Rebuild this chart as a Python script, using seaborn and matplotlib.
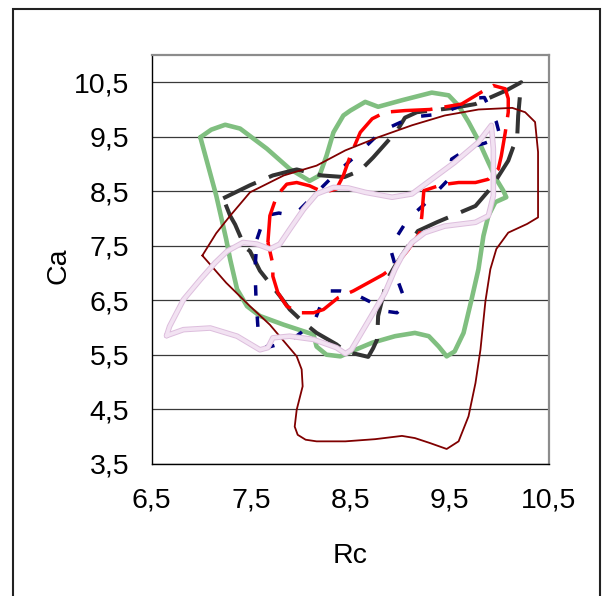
import matplotlib
matplotlib.use("Agg")
import matplotlib.pyplot as plt
import matplotlib.patheffects as pe
from matplotlib.patches import Rectangle
from matplotlib.ticker import FixedLocator, FuncFormatter
import seaborn as sns

# ---- closed contours in the Rc / Ca plane ----
rc_maroon = [7.01, 7.15, 7.29, 7.49, 7.83, 8.16, 8.45, 8.78, 9.12, 9.45, 9.79, 10.13, 10.26, 10.36,
             10.39, 10.39, 10.39, 10.28, 10.09, 9.97, 9.91, 9.86, 9.81, 9.76, 9.69, 9.59, 9.47, 9.30,
             9.15, 9.02, 8.75, 8.45, 8.16, 8.05, 7.97, 7.94, 7.96, 8.02, 8.01, 7.96, 7.69, 7.49, 7.25, 7.01]
ca_maroon = [7.32, 7.73, 8.05, 8.48, 8.79, 8.97, 9.25, 9.49, 9.71, 9.89, 10.00, 10.03, 9.95, 9.77,
             9.22, 8.60, 8.02, 7.90, 7.74, 7.44, 7.07, 6.48, 5.59, 4.98, 4.37, 3.91, 3.77, 3.88,
             3.97, 4.01, 3.95, 3.91, 3.91, 3.94, 4.03, 4.18, 4.49, 4.92, 5.23, 5.47, 6.05, 6.39, 6.82, 7.32]

rc_green = [6.99, 7.10, 7.24, 7.39, 7.66, 7.89, 8.09, 8.19, 8.26, 8.33, 8.43, 8.50, 8.65, 8.78, 9.02,
            9.32, 9.49, 9.59, 9.69, 9.79, 9.89, 9.97, 10.04, 10.07, 9.96, 9.89, 9.84, 9.79, 9.72, 9.64,
            9.55, 9.47, 9.39, 9.29, 9.15, 8.95, 8.72, 8.55, 8.40, 8.26, 8.16, 8.13, 7.83, 7.59, 7.46,
            7.36, 7.29, 7.25, 7.15, 6.99]
ca_green = [9.49, 9.63, 9.72, 9.65, 9.28, 8.91, 8.69, 8.79, 9.15, 9.58, 9.89, 9.98, 10.14, 10.05, 10.17,
            10.31, 10.26, 10.07, 9.77, 9.43, 9.03, 8.72, 8.51, 8.39, 8.30, 8.05, 7.68, 7.07, 6.51, 5.90,
            5.56, 5.47, 5.65, 5.84, 5.90, 5.84, 5.72, 5.59, 5.47, 5.50, 5.65, 5.87, 6.05, 6.21, 6.39,
            6.70, 7.25, 7.62, 8.42, 9.49]

rc_grey = [7.22, 7.49, 7.72, 7.96, 8.21, 8.44, 8.60, 8.73, 8.97, 9.05, 9.17, 9.54, 9.76, 10.07, 10.22,
           10.19, 10.18, 10.14, 10.09, 9.92, 9.76, 9.37, 9.18, 8.95, 8.87, 8.78, 8.77, 8.73, 8.68, 8.45,
           8.36, 8.16, 8.03, 7.89, 7.79, 7.59, 7.49, 7.44, 7.34, 7.29, 7.22]
ca_grey = [8.37, 8.61, 8.79, 8.90, 8.79, 8.76, 8.88, 9.12, 9.61, 9.85, 9.95, 10.03, 10.10, 10.35, 10.50,
           9.89, 9.49, 9.31, 9.06, 8.57, 8.23, 7.93, 7.77, 7.13, 6.88, 6.21, 5.78, 5.62, 5.46, 5.56,
           5.69, 5.90, 6.09, 6.33, 6.58, 7.04, 7.40, 7.47, 7.89, 8.05, 8.37]

rc_navy = [7.56, 7.64, 7.78, 7.93, 8.13, 8.35, 8.58, 8.82, 9.12, 9.42, 9.58, 9.69, 9.85, 9.97, 10.01,
           9.85, 9.71, 9.52, 9.49, 9.27, 9.08, 8.90, 8.95, 8.98, 9.03, 9.04, 8.97, 8.85, 8.70, 8.55,
           8.40, 8.28, 8.20, 8.14, 8.00, 7.89, 7.66, 7.60, 7.57, 7.55, 7.54, 7.56]
ca_navy = [7.62, 8.05, 8.10, 8.05, 8.42, 8.82, 9.19, 9.61, 9.86, 9.92, 10.05, 10.20, 10.22, 9.77, 9.49,
           9.38, 9.31, 9.09, 8.72, 8.30, 7.99, 7.47, 7.15, 6.85, 6.60, 6.40, 6.27, 6.30, 6.47, 6.61,
           6.67, 6.67, 6.40, 6.12, 5.90, 5.75, 5.63, 5.75, 5.99, 6.55, 7.07, 7.62]

rc_red = [7.67, 7.69, 7.76, 7.86, 7.96, 8.09, 8.23, 8.36, 8.43, 8.50, 8.60, 8.72, 8.85, 9.05, 9.30,
          9.62, 9.82, 9.94, 10.06, 10.09, 10.09, 10.06, 10.02, 9.99, 9.89, 9.76, 9.59, 9.42, 9.24,
          9.22, 9.20, 9.08, 8.95, 8.83, 8.53, 8.38, 8.23, 8.13, 7.99, 7.86, 7.77, 7.72, 7.72, 7.67]
ca_red = [7.56, 8.05, 8.42, 8.63, 8.66, 8.60, 8.48, 8.54, 8.79, 9.15, 9.58, 9.83, 9.95, 9.98, 10.00,
          10.10, 10.32, 10.44, 10.38, 10.20, 9.95, 9.58, 9.15, 8.91, 8.72, 8.66, 8.66, 8.62, 8.51,
          8.05, 7.74, 7.42, 7.13, 6.97, 6.67, 6.55, 6.33, 6.27, 6.27, 6.39, 6.64, 6.94, 7.16, 7.56]

rc_pink = [6.65, 6.68, 6.82, 6.99, 7.14, 7.26, 7.42, 7.56, 7.69, 7.79, 7.89, 8.03, 8.16, 8.33, 8.48,
           8.65, 8.92, 9.12, 9.32, 9.55, 9.79, 9.92, 9.94, 9.94, 9.89, 9.76, 9.45, 9.25, 9.12, 9.02,
           8.95, 8.85, 8.65, 8.51, 8.45, 8.36, 8.13, 7.89, 7.72, 7.67, 7.59, 7.36, 7.09, 6.82, 6.65]
ca_pink = [5.85, 6.02, 6.51, 6.88, 7.19, 7.40, 7.56, 7.53, 7.44, 7.53, 7.80, 8.17, 8.45, 8.57, 8.56,
           8.48, 8.39, 8.45, 8.72, 9.03, 9.40, 9.71, 9.28, 8.42, 8.05, 7.93, 7.86, 7.74, 7.56, 7.31,
           7.07, 6.64, 6.02, 5.59, 5.52, 5.63, 5.78, 5.84, 5.81, 5.63, 5.59, 5.84, 5.99, 5.96, 5.85]

x_ticks = [6.5, 7.5, 8.5, 9.5, 10.5]
y_ticks = [3.5, 4.5, 5.5, 6.5, 7.5, 8.5, 9.5, 10.5]

sns.set_theme(style="white")
plt.rcParams["font.family"] = ["Liberation Sans", "DejaVu Sans"]

fig = plt.figure(figsize=(6.06, 5.96), dpi=100)
ax = fig.add_axes([0.2503, 0.222, 0.6556, 0.6857])

def contour(x, y, color, lw, dash=None, z=2, effects=None):
    kws = dict(color=color, linewidth=lw, zorder=z)
    if dash is not None:
        kws["linestyle"] = (0, dash)
        kws["dash_capstyle"] = "butt"
    sns.lineplot(x=x, y=y, sort=False, estimator=None, ax=ax, **kws)
    line = ax.get_lines()[-1]
    if effects:
        line.set_path_effects(effects)

contour(rc_green, ca_green, "#80BF80", 3.3, z=2)
contour(rc_grey, ca_grey, "#333333", 2.9, dash=(9, 3.5), z=3)
contour(rc_navy, ca_navy, "#000080", 2.5, dash=(3, 6), z=4)
contour(rc_red, ca_red, "#FF0000", 2.5, dash=(12, 3.5), z=5)
contour(rc_maroon, ca_maroon, "#800000", 1.3, z=6)
contour(rc_pink, ca_pink, "#F2E2F2", 2.6, z=7,
        effects=[pe.Stroke(linewidth=4.0, foreground="#DDBEDD"), pe.Normal()])

ax.set_xlim(6.5, 10.5)
ax.set_ylim(3.5, 11.0)
ax.xaxis.set_major_locator(FixedLocator(x_ticks))
ax.yaxis.set_major_locator(FixedLocator(y_ticks))
comma = FuncFormatter(lambda v, _: f"{v:.1f}".replace(".", ","))
ax.xaxis.set_major_formatter(comma)
ax.yaxis.set_major_formatter(comma)

ax.yaxis.grid(True, color="#3A3A3A", linewidth=0.9)
ax.xaxis.grid(False)
ax.set_axisbelow(True)

for side in ("left", "bottom"):
    ax.spines[side].set_color("black")
    ax.spines[side].set_linewidth(1.0)
for side in ("top", "right"):
    ax.spines[side].set_color("#8C8C8C")
    ax.spines[side].set_linewidth(1.6)

ax.tick_params(axis="both", direction="out", length=7.2, width=1.0, color="black",
               labelsize=20.5, labelcolor="black")
ax.tick_params(axis="x", pad=10)
ax.tick_params(axis="y", pad=9)

ax.set_xlabel("Rc", fontsize=20.5, color="black")
ax.set_ylabel("Ca", fontsize=20.5, color="black")
ax.xaxis.label.set_va("center")
ax.yaxis.label.set_va("center")
ax.xaxis.set_label_coords(0.5, -0.2254)
ax.yaxis.set_label_coords(-0.2351, 0.484)

# outer chart frame
fig.patches.append(Rectangle((0.022, -0.05), 0.968, 1.0344, transform=fig.transFigure,
                             fill=False, edgecolor="#222222", linewidth=1.5))

fig.savefig("out.png", dpi=100)
